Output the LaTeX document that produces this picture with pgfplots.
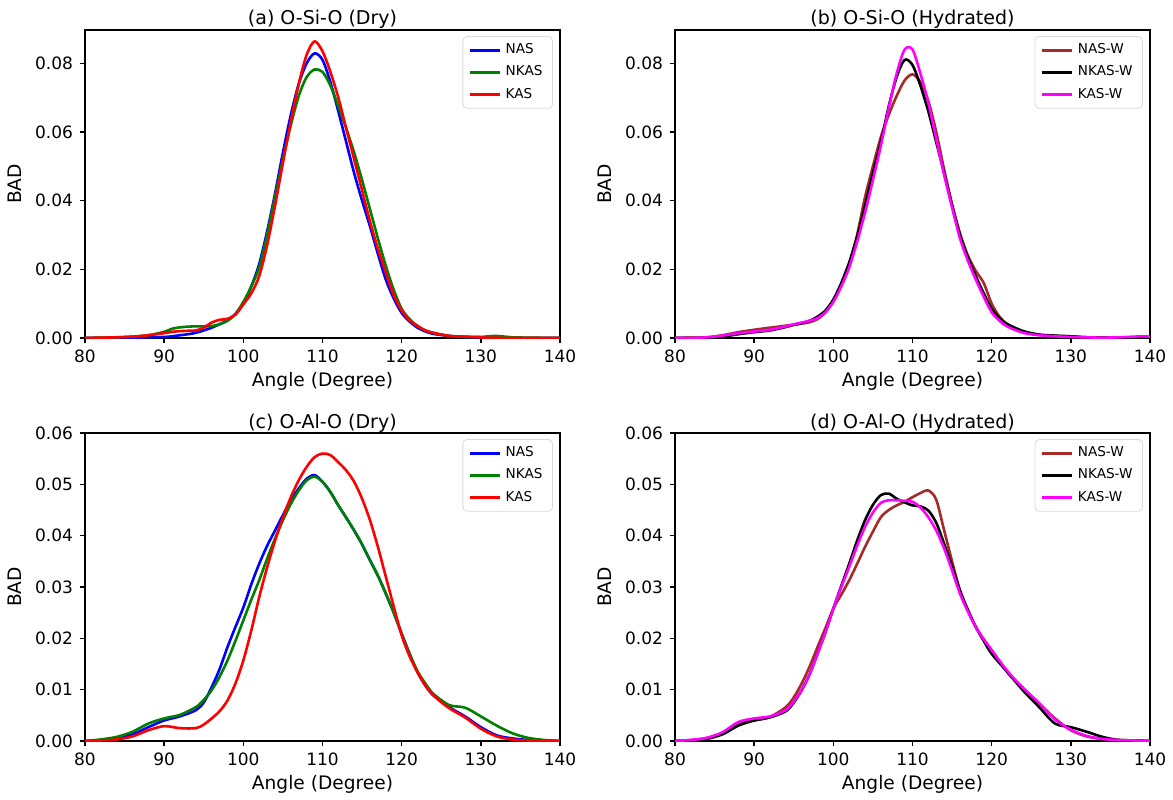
\documentclass[border=0pt]{standalone}
\usepackage{fontspec}
\setmainfont{DejaVu Sans}
\usepackage{pgfplots}
\usepackage{pgfplotstable}
\pgfplotsset{compat=1.18}
\definecolor{cblue}{RGB}{0,0,255}
\definecolor{cgreen}{RGB}{0,128,0}
\definecolor{cred}{RGB}{255,0,0}
\definecolor{cbrown}{RGB}{165,42,42}
\definecolor{cmag}{RGB}{255,0,255}

\pgfplotstableread{
x NAS NKAS KAS
80 0 0 0
82 0.0000 0.0001 0.0001
84 0.0001 0.0002 0.0002
86 0.0001 0.0004 0.0004
88 0.0002 0.0008 0.0008
90 0.0003 0.0018 0.0014
91 0.0005 0.0027 0.0018
92 0.0008 0.0031 0.0020
93 0.0011 0.0033 0.0021
94 0.0015 0.0034 0.0022
95 0.0022 0.0034 0.0030
96 0.0030 0.0035 0.0045
97 0.0040 0.0040 0.0053
98 0.0052 0.0050 0.0056
99 0.0070 0.0070 0.0068
100 0.0100 0.0105 0.0098
101 0.0150 0.0150 0.0130
102 0.0215 0.0205 0.0180
103 0.0310 0.0300 0.0270
104 0.0420 0.0410 0.0385
105 0.0540 0.0520 0.0510
106 0.0650 0.0620 0.0630
107 0.0740 0.0705 0.0740
108 0.0800 0.0760 0.0825
109 0.0829 0.0782 0.0864
110 0.0810 0.0775 0.0835
111 0.0745 0.0735 0.0775
112 0.0660 0.0675 0.0700
113 0.0570 0.0610 0.0610
114 0.0480 0.0540 0.0520
115 0.0400 0.0460 0.0430
116 0.0325 0.0375 0.0340
117 0.0245 0.0290 0.0260
118 0.0170 0.0210 0.0190
119 0.0115 0.0140 0.0125
120 0.0073 0.0085 0.0080
121 0.0048 0.0055 0.0052
122 0.0030 0.0035 0.0035
123 0.0019 0.0022 0.0022
124 0.0012 0.0015 0.0015
126 0.0006 0.0006 0.0006
128 0.0003 0.0003 0.0004
130 0.0002 0.0003 0.0002
131 0.0001 0.0005 0.0001
132 0.0001 0.0006 0.0001
133 0.0000 0.0004 0.0000
134 0.0000 0.0002 0.0000
136 0.0000 0.0001 0.0000
140 0 0 0
}\tabA

\pgfplotstableread{
x NASW NKASW KASW
80 0 0 0
82 0.0001 0.0000 0.0000
84 0.0002 0.0001 0.0002
86 0.0008 0.0004 0.0007
88 0.0017 0.0011 0.0014
90 0.0024 0.0017 0.0019
92 0.0030 0.0022 0.0024
94 0.0036 0.0032 0.0034
95 0.0039 0.0038 0.0040
96 0.0042 0.0043 0.0045
97 0.0046 0.0050 0.0050
98 0.0055 0.0062 0.0058
99 0.0075 0.0080 0.0075
100 0.0108 0.0112 0.0105
101 0.0155 0.0160 0.0150
102 0.0215 0.0220 0.0205
103 0.0300 0.0295 0.0280
104 0.0410 0.0385 0.0365
105 0.0500 0.0480 0.0460
106 0.0585 0.0570 0.0560
107 0.0650 0.0675 0.0670
108 0.0705 0.0760 0.0770
109 0.0750 0.0810 0.0840
110 0.0768 0.0795 0.0840
111 0.0745 0.0735 0.0770
112 0.0690 0.0660 0.0685
113 0.0600 0.0570 0.0580
114 0.0490 0.0480 0.0475
115 0.0390 0.0385 0.0380
116 0.0305 0.0300 0.0290
117 0.0240 0.0235 0.0225
118 0.0195 0.0180 0.0170
119 0.0160 0.0130 0.0120
120 0.0100 0.0085 0.0075
121 0.0062 0.0058 0.0050
122 0.0040 0.0040 0.0033
124 0.0018 0.0020 0.0015
126 0.0009 0.0010 0.0008
128 0.0006 0.0007 0.0005
130 0.0004 0.0005 0.0003
132 0.0002 0.0002 0.0002
134 0.0001 0.0001 0.0001
136 0.0000 0.0000 0.0002
138 0.0000 0.0000 0.0004
139 0.0000 0.0000 0.0005
140 0.0000 0.0000 0.0004
}\tabB

\pgfplotstableread{
x NAS NKAS KAS
80 0 0 0
82 0.0002 0.0003 0.0001
84 0.0005 0.0008 0.0003
86 0.0013 0.0018 0.0009
88 0.0027 0.0034 0.0021
90 0.0040 0.0044 0.0029
92 0.0048 0.0051 0.0025
94 0.0060 0.0066 0.0025
95 0.0075 0.0080 0.0032
96 0.0105 0.0099 0.0044
97 0.0140 0.0125 0.0058
98 0.0183 0.0157 0.0079
99 0.0222 0.0195 0.0112
100 0.0260 0.0235 0.0157
101 0.0305 0.0275 0.0215
102 0.0345 0.0313 0.0280
103 0.0380 0.0355 0.0338
104 0.0410 0.0394 0.0390
105 0.0440 0.0430 0.0435
106 0.0469 0.0462 0.0475
107 0.0492 0.0488 0.0508
108 0.0511 0.0508 0.0534
109 0.0518 0.0515 0.0553
110 0.0505 0.0505 0.0560
111 0.0485 0.0485 0.0557
112 0.0459 0.0459 0.0543
113 0.0435 0.0435 0.0527
114 0.0410 0.0410 0.0505
115 0.0383 0.0383 0.0472
116 0.0352 0.0352 0.0430
117 0.0322 0.0322 0.0378
118 0.0287 0.0287 0.0320
119 0.0250 0.0250 0.0262
120 0.0209 0.0209 0.0206
121 0.0170 0.0170 0.0165
122 0.0134 0.0136 0.0134
123 0.0108 0.0112 0.0108
124 0.0089 0.0092 0.0089
126 0.0066 0.0070 0.0064
128 0.0048 0.0065 0.0046
130 0.0027 0.0048 0.0024
132 0.0011 0.0030 0.0009
134 0.0005 0.0015 0.0003
136 0.0002 0.0006 0.0001
138 0.0001 0.0002 0.0000
140 0 0 0
}\tabC

\pgfplotstableread{
x NASW NKASW KASW
80 0 0 0
82 0.0002 0.0001 0.0002
84 0.0006 0.0004 0.0006
86 0.0016 0.0013 0.0017
88 0.0034 0.0030 0.0037
90 0.0040 0.0040 0.0044
92 0.0047 0.0046 0.0048
94 0.0066 0.0058 0.0060
95 0.0085 0.0075 0.0077
96 0.0112 0.0099 0.0099
97 0.0145 0.0130 0.0130
98 0.0183 0.0170 0.0170
99 0.0220 0.0212 0.0212
100 0.0258 0.0258 0.0258
101 0.0285 0.0302 0.0300
102 0.0313 0.0345 0.0339
103 0.0345 0.0390 0.0380
104 0.0378 0.0430 0.0417
105 0.0408 0.0460 0.0445
106 0.0436 0.0479 0.0464
107 0.0450 0.0482 0.0469
108 0.0459 0.0472 0.0469
109 0.0466 0.0465 0.0468
110 0.0475 0.0459 0.0466
111 0.0483 0.0457 0.0455
112 0.0488 0.0449 0.0436
113 0.0470 0.0425 0.0410
114 0.0410 0.0384 0.0375
115 0.0350 0.0340 0.0332
116 0.0293 0.0293 0.0287
117 0.0255 0.0255 0.0252
118 0.0222 0.0222 0.0222
119 0.0198 0.0195 0.0198
120 0.0177 0.0170 0.0177
122 0.0134 0.0134 0.0136
124 0.0102 0.0098 0.0103
126 0.0073 0.0066 0.0074
128 0.0044 0.0034 0.0042
130 0.0021 0.0027 0.0022
132 0.0009 0.0018 0.0010
134 0.0004 0.0008 0.0004
136 0.0002 0.0002 0.0002
138 0.0001 0.0001 0.0001
140 0 0 0
}\tabD

\pgfplotsset{
  panel/.style={
    scale only axis, width=237.5pt, height=154pt,
    xmin=80, xmax=140, ymin=0,
    xtick={80,90,...,140},
    scaled y ticks=false,
    tick align=outside, tick pos=left,
    major tick length=2.5pt,
    axis line style={line width=0.9pt},
    every tick/.style={black, line width=0.8pt},
    tick label style={font=\fontsize{8.5}{10}\selectfont},
    /pgf/number format/assume math mode=true,
    y tick label style={/pgf/number format/.cd, fixed, fixed zerofill, precision=2, /tikz/.cd},
    label style={font=\fontsize{9.3}{11}\selectfont},
    title style={font=\fontsize{9.5}{11}\selectfont, at={(0.5,1)}, anchor=south, yshift=-9pt},
    xlabel={Angle (Degree)}, ylabel={BAD},
    xlabel style={yshift=2pt},
    legend style={at={(0.985,0.98)}, anchor=north east, draw=black!15, rounded corners=2pt,
      font=\fontsize{6.8}{8}\selectfont, inner xsep=3pt, inner ysep=1.5pt, row sep=0.6pt},
    legend cell align=left,
    legend image code/.code={\draw[#1, line width=1.4pt] (0pt,0pt) -- (15pt,0pt);},
    every axis plot/.append style={line width=1.3pt, smooth, tension=0.5},
  },
}

\begin{document}
\begin{tikzpicture}
\useasboundingbox (0,0) rectangle (586.5pt,399.5pt);
\begin{axis}[panel, at={(42.5pt,230.5pt)}, anchor=south west, ymax=0.0897, ytick={0,0.02,...,0.08},
  title={(a) O-Si-O (Dry)}]
\addplot[cblue] table[x=x,y=NAS]{\tabA};
\addplot[cgreen] table[x=x,y=NKAS]{\tabA};
\addplot[cred] table[x=x,y=KAS]{\tabA};
\legend{NAS,NKAS,KAS}
\end{axis}
\begin{axis}[panel, at={(337.5pt,230.5pt)}, anchor=south west, ymax=0.0897, ytick={0,0.02,...,0.08},
  title={(b) O-Si-O (Hydrated)}]
\addplot[cbrown] table[x=x,y=NASW]{\tabB};
\addplot[black] table[x=x,y=NKASW]{\tabB};
\addplot[cmag] table[x=x,y=KASW]{\tabB};
\legend{NAS-W,NKAS-W,KAS-W}
\end{axis}
\begin{axis}[panel, at={(42.5pt,29pt)}, anchor=south west, ymax=0.06, ytick={0,0.01,...,0.06},
  title={(c) O-Al-O (Dry)}]
\addplot[cblue] table[x=x,y=NAS]{\tabC};
\addplot[cgreen] table[x=x,y=NKAS]{\tabC};
\addplot[cred] table[x=x,y=KAS]{\tabC};
\legend{NAS,NKAS,KAS}
\end{axis}
\begin{axis}[panel, at={(337.5pt,29pt)}, anchor=south west, ymax=0.06, ytick={0,0.01,...,0.06},
  title={(d) O-Al-O (Hydrated)}]
\addplot[cbrown] table[x=x,y=NASW]{\tabD};
\addplot[black] table[x=x,y=NKASW]{\tabD};
\addplot[cmag] table[x=x,y=KASW]{\tabD};
\legend{NAS-W,NKAS-W,KAS-W}
\end{axis}
\end{tikzpicture}
\end{document}
